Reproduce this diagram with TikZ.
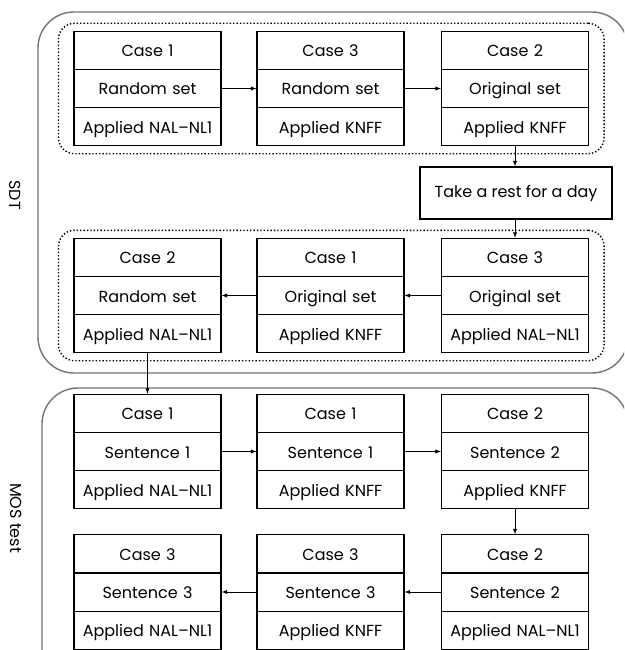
\documentclass[tikz,border=0pt]{standalone}
\usepackage{fontspec}
\setmainfont{Poppins}
\usetikzlibrary{shapes.multipart,fit}
\newcommand{\rs}{\rule[-12pt]{0pt}{37pt}}

\begin{document}
\begin{tikzpicture}[x=1pt, y=-1pt, >=latex,
  casebox/.style = {draw, line width=1.1pt, rectangle split, rectangle split parts=3,
    text width=145pt, align=center, inner xsep=1pt, inner ysep=0pt,
    font=\fontsize{16}{18}\selectfont},
  restbox/.style = {draw, line width=1.1pt, minimum width=192pt, minimum height=52pt,
    inner sep=0pt, font=\fontsize{16}{18}\selectfont},
  dotbox/.style = {draw, dotted, line width=1.4pt, rounded corners=16pt, inner xsep=15pt, inner ysep=7.5pt},
  groupbox/.style = {draw=black!55, line width=1.4pt, rounded corners=36pt},
  link/.style = {->, line width=0.9pt}]
\useasboundingbox (0,0) rectangle (624,650);
\clip (0,0) rectangle (624,650);
% SDT, first day
\node[casebox] (s1) at (147.5,88.5) {\rs Case 1 \nodepart{two}\rs Random set \nodepart{three}\rs Applied NAL–NL1};
\node[casebox] (s2) at (330.5,88.5) {\rs Case 3 \nodepart{two}\rs Random set \nodepart{three}\rs Applied KNFF};
\node[casebox] (s3) at (515,88.5) {\rs Case 2 \nodepart{two}\rs Original set \nodepart{three}\rs Applied KNFF};
\node[restbox] (rest) at (516,193) {Take a rest for a day};
% SDT, second day
\node[casebox] (s4) at (515,295.5) {\rs Case 3 \nodepart{two}\rs Original set \nodepart{three}\rs Applied NAL–NL1};
\node[casebox] (s5) at (330.5,295.5) {\rs Case 1 \nodepart{two}\rs Original set \nodepart{three}\rs Applied KNFF};
\node[casebox] (s6) at (147.5,295.5) {\rs Case 2 \nodepart{two}\rs Random set \nodepart{three}\rs Applied NAL–NL1};
% MOS test
\node[casebox] (m1) at (147.5,451.5) {\rs Case 1 \nodepart{two}\rs Sentence 1 \nodepart{three}\rs Applied NAL–NL1};
\node[casebox] (m2) at (330.5,451.5) {\rs Case 1 \nodepart{two}\rs Sentence 1 \nodepart{three}\rs Applied KNFF};
\node[casebox] (m3) at (515,451.5) {\rs Case 2 \nodepart{two}\rs Sentence 2 \nodepart{three}\rs Applied KNFF};
\node[casebox] (m4) at (515,592) {\rs Case 2 \nodepart{two}\rs Sentence 2 \nodepart{three}\rs Applied NAL–NL1};
\node[casebox] (m5) at (330.5,592) {\rs Case 3 \nodepart{two}\rs Sentence 3 \nodepart{three}\rs Applied KNFF};
\node[casebox] (m6) at (147.5,592) {\rs Case 3 \nodepart{two}\rs Sentence 3 \nodepart{three}\rs Applied NAL–NL1};
% groups
\node[dotbox, fit=(s1)(s3)] (day1) {};
\node[dotbox, fit=(s4)(s6)] (day2) {};
\draw[groupbox] (38,12) rectangle (628,373);
\draw[groupbox] (42,388) rectangle (628,690);
\node[rotate=-90, font=\fontsize{16}{18}\selectfont] (sdt) at (15,195) {SDT};
\node[rotate=-90, font=\fontsize{16}{18}\selectfont] (mos) at (16,518) {MOS test};
% order
\draw[link] (s1.two east) -- (s2.two west);
\draw[link] (s2.two east) -- (s3.two west);
\draw[link] (s3.south) -- (s3.south |- rest.north);
\draw[link] (s3.south |- rest.south) -- (s4.north);
\draw[link] (s4.two west) -- (s5.two east);
\draw[link] (s5.two west) -- (s6.two east);
\draw[link] (s6.south) -- (m1.north);
\draw[link] (m1.two east) -- (m2.two west);
\draw[link] (m2.two east) -- (m3.two west);
\draw[link] (m3.south) -- (m4.north);
\draw[link] (m4.two west) -- (m5.two east);
\draw[link] (m5.two west) -- (m6.two east);
\end{tikzpicture}
\end{document}
